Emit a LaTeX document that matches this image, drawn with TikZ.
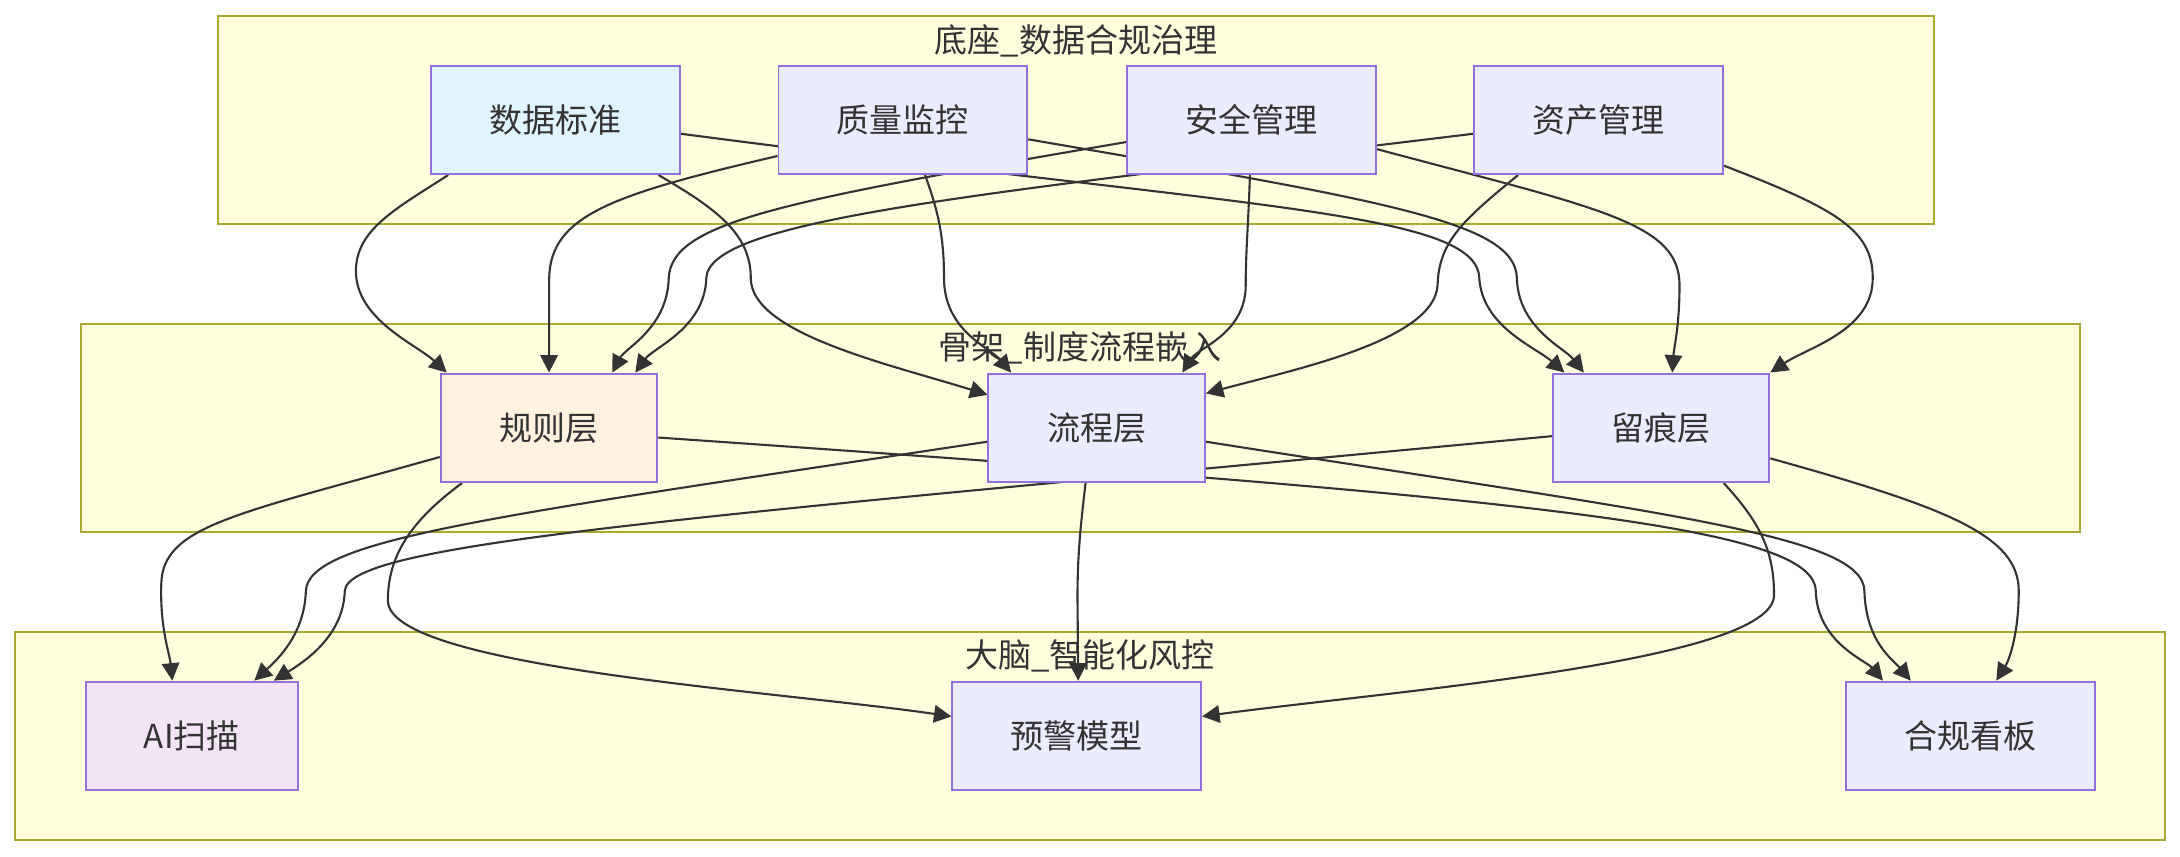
\documentclass[tikz,border=0pt]{standalone}
\usepackage{fontspec}
\setmainfont{Noto Sans CJK SC}
\usepackage{xcolor}
\usetikzlibrary{arrows.meta,calc}
\definecolor{grpfill}{HTML}{FFFFDE}
\definecolor{grpline}{HTML}{AAAA33}
\definecolor{boxfill}{HTML}{ECECFF}
\definecolor{boxline}{HTML}{9370DB}
\definecolor{txt}{HTML}{333333}
\definecolor{bluefill}{HTML}{E1F5FE}
\definecolor{orangefill}{HTML}{FFF3E0}
\definecolor{pinkfill}{HTML}{F3E5F5}
\pgfdeclarelayer{grp}\pgfdeclarelayer{links}
\pgfsetlayers{grp,links,main}
\begin{document}
\begin{tikzpicture}[x=0.13903mm,y=-0.13903mm,
every node/.style={font=\fontsize{9.4}{11}\selectfont,text=txt},
box/.style={draw=boxline,fill=boxfill,line width=0.55pt,inner sep=0pt,
minimum width=24.87mm,minimum height=10.85mm},
mid/.style={box,minimum width=21.65mm}, grp/.style={draw=grpline,fill=grpfill,line width=0.6pt},
arr/.style={-{Triangle[length=1.75mm,width=1.75mm]},line width=0.6pt,draw=txt}]
\useasboundingbox (0,0) rectangle (1568,616);

% groups
\begin{pgfonlayer}{grp}
\draw[grp] (157,11.3) rectangle (1391.3,161);
\draw[grp] (58.5,233) rectangle (1496,382.4);
\draw[grp] (11.1,454.6) rectangle (1557.2,604.2);
\end{pgfonlayer}
\node (base) at (774,29.5) {底座\_数据合规治理};
\node (frame) at (777,250) {骨架\_制度流程嵌入};
\node (brain) at (784,471.8) {大脑\_智能化风控};

% top row
\node[box,fill=bluefill] (std) at (399.5,86.2) {数据标准};
\node[box] (qual) at (649.4,86.2) {质量监控};
\node[box] (sec) at (900,86.2) {安全管理};
\node[box] (asset) at (1149.9,86.2) {资产管理};
% middle row
\node[mid,fill=orangefill] (rule) at (394.9,307.7) {规则层};
\node[mid] (flow) at (788.8,307.7) {流程层};
\node[mid] (trace) at (1194.8,307.7) {留痕层};
% bottom row
\node[box,fill=pinkfill,minimum width=21.24mm] (scan) at (138,529.3) {AI扫描};
\node[box] (warn) at (774.5,529.3) {预警模型};
\node[box] (board) at (1417.5,529.3) {合规看板};

\begin{pgfonlayer}{links}
% top -> middle
\draw[arr] ($(std.south west)+(13,0)$) .. controls (285,150) and (256,165) .. (256,195) .. controls (256,230) and (300,248) .. ($(rule.north west)+(5,0)$);
\draw[arr] ($(std.south east)+(-16,0)$) .. controls (515,150) and (540,168) .. (540,200) .. controls (540,240) and (640,262) .. ($(flow.north west)+(0,16)$);
\draw[arr] ($(std.east)+(0,10)$) .. controls (900,150) and (1062,152) .. (1064,200) .. controls (1066,235) and (1105,250) .. ($(trace.north west)+(9,0)$);
\draw[arr] ($(qual.west)+(0,26)$) .. controls (440,140) and (396,155) .. (395,200) -- (rule.north);
\draw[arr] ($(qual.south)+(16,0)$) .. controls (674,150) and (679,168) .. (679,200) .. controls (679,238) and (712,250) .. ($(flow.north west)+(17,0)$);
\draw[arr] ($(qual.east)+(0,14)$) .. controls (1000,145) and (1090,160) .. (1091,200) .. controls (1092,236) and (1125,250) .. ($(trace.north west)+(23,0)$);
\draw[arr] ($(sec.west)+(0,16)$) .. controls (560,145) and (483,160) .. (481,200) .. controls (480,236) and (450,250) .. ($(rule.north)+(45.5,0)$);
\draw[arr] ($(sec.south)+(-1,0)$) .. controls (898,160) and (896,180) .. (896,205) .. controls (896,240) and (862,250) .. ($(flow.north east)+(-17,0)$);
\draw[arr] ($(sec.east)+(0,21)$) .. controls (1150,150) and (1208,160) .. (1208,205) .. controls (1208,235) and (1204,250) .. ($(trace.north)+(8,0)$);
\draw[arr] ($(asset.west)+(0,10)$) .. controls (700,140) and (510,158) .. (508,200) .. controls (507,236) and (470,250) .. ($(rule.north)+(62,0)$);
\draw[arr] ($(asset.south)+(-58,0)$) .. controls (1050,160) and (1035,175) .. (1034,205) .. controls (1032,245) and (930,266) .. ($(flow.north east)+(0,15)$);
\draw[arr] ($(asset.east)+(0,33)$) .. controls (1320,150) and (1347,165) .. (1347,200) .. controls (1347,238) and (1300,250) .. (trace.north east);
% middle -> bottom
\draw[arr] ($(rule.west)+(0,21)$) .. controls (170,370) and (117,378) .. (116,420) .. controls (115,452) and (122,470) .. ($(scan.north west)+(63,0)$);
\draw[arr] ($(rule.south west)+(16,0)$) .. controls (295,375) and (279,400) .. (279,432) .. controls (279,480) and (560,497) .. ($(warn.west)+(0,-14)$);
\draw[arr] ($(rule.east)+(0,7)$) .. controls (1100,358) and (1305,378) .. (1306,425) .. controls (1307,462) and (1342,475) .. ($(board.north west)+(27,0)$);
\draw[arr] ($(flow.west)+(0,10)$) .. controls (350,372) and (222,388) .. (220,425) .. controls (219,456) and (200,474) .. ($(scan.north west)+(122,0)$);
\draw[arr] ($(flow.south)+(-8,0)$) .. controls (777,380) and (775,400) .. (775,430) -- ($(warn.north)+(1,0)$);
\draw[arr] ($(flow.east)+(0,10)$) .. controls (1200,370) and (1340,385) .. (1341,425) .. controls (1342,462) and (1362,475) .. ($(board.north west)+(47,0)$);
\draw[arr] ($(trace.west)+(0,6)$) .. controls (500,372) and (250,390) .. (248,425) .. controls (247,456) and (222,474) .. ($(scan.north west)+(136,0)$);
\draw[arr] ($(trace.south)+(45,0)$) .. controls (1265,375) and (1276,395) .. (1276,428) .. controls (1276,476) and (1000,497) .. ($(warn.east)+(0,-14)$);
\draw[arr] ($(trace.east)+(0,22)$) .. controls (1400,365) and (1452,385) .. (1452,425) .. controls (1452,456) and (1445,475) .. ($(board.north west)+(108.5,0)$);
\end{pgfonlayer}
\end{tikzpicture}
\end{document}
